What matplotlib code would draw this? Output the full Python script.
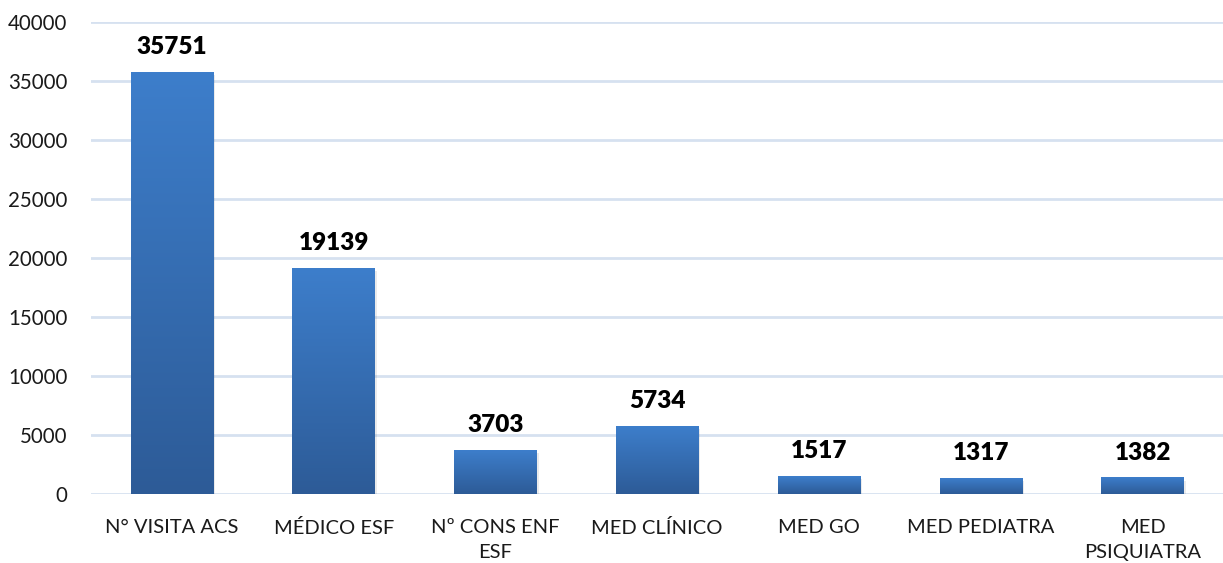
import matplotlib.pyplot as plt
import numpy as np
from matplotlib.colors import LinearSegmentedColormap

categories = ["N° VISITA ACS", "MÉDICO ESF", "Nº CONS ENF\nESF", "MED CLÍNICO",
              "MED GO", "MED PEDIATRA", "MED\nPSIQUIATRA"]
values = [35751, 19139, 3703, 5734, 1517, 1317, 1382]
yticks = [0, 5000, 10000, 15000, 20000, 25000, 30000, 35000, 40000]

plt.rcParams['font.family'] = ['Lato', 'DejaVu Sans']

fig = plt.figure(figsize=(12.23, 5.63), dpi=100)
ax = fig.add_axes([0.0744, 0.1226, 0.926, 0.8384])

grad = LinearSegmentedColormap.from_list("bargrad", ["#2D5B97", "#3D7ECB"])
gimg = np.linspace(0, 1, 256).reshape(-1, 1)

width = 0.51
x = np.arange(len(categories))
for xi, v in zip(x, values):
    # soft shadow
    ax.bar(xi + 0.012, v, width, bottom=-250, color="#000000", alpha=0.08, zorder=2, linewidth=0)
    ax.imshow(gimg, cmap=grad, origin="lower", aspect="auto",
              extent=(xi - width / 2, xi + width / 2, 0, v), zorder=3)
    ax.text(xi, v + 1200, str(v), ha="center", va="bottom", fontsize=17.5,
            fontweight="heavy", color="black", zorder=4)

ax.set_xlim(-0.5, len(categories) - 0.5)
ax.set_ylim(0, 40000)
ax.set_yticks(yticks)
ax.set_xticks(x)
ax.set_xticklabels(categories, fontsize=14.5, color="#1a1a1a", linespacing=1.6)
ax.tick_params(axis="y", labelsize=14.8, labelcolor="#1a1a1a", length=0, pad=17)
ax.tick_params(axis="x", length=0, pad=18)
for lbl in ax.get_xticklabels():
    lbl.set_verticalalignment("top")

ax.grid(axis="y", color="#D6E1F0", linewidth=2, zorder=0)
ax.set_axisbelow(True)
for s in ax.spines.values():
    s.set_visible(False)

fig.savefig("out.png", dpi=100)
